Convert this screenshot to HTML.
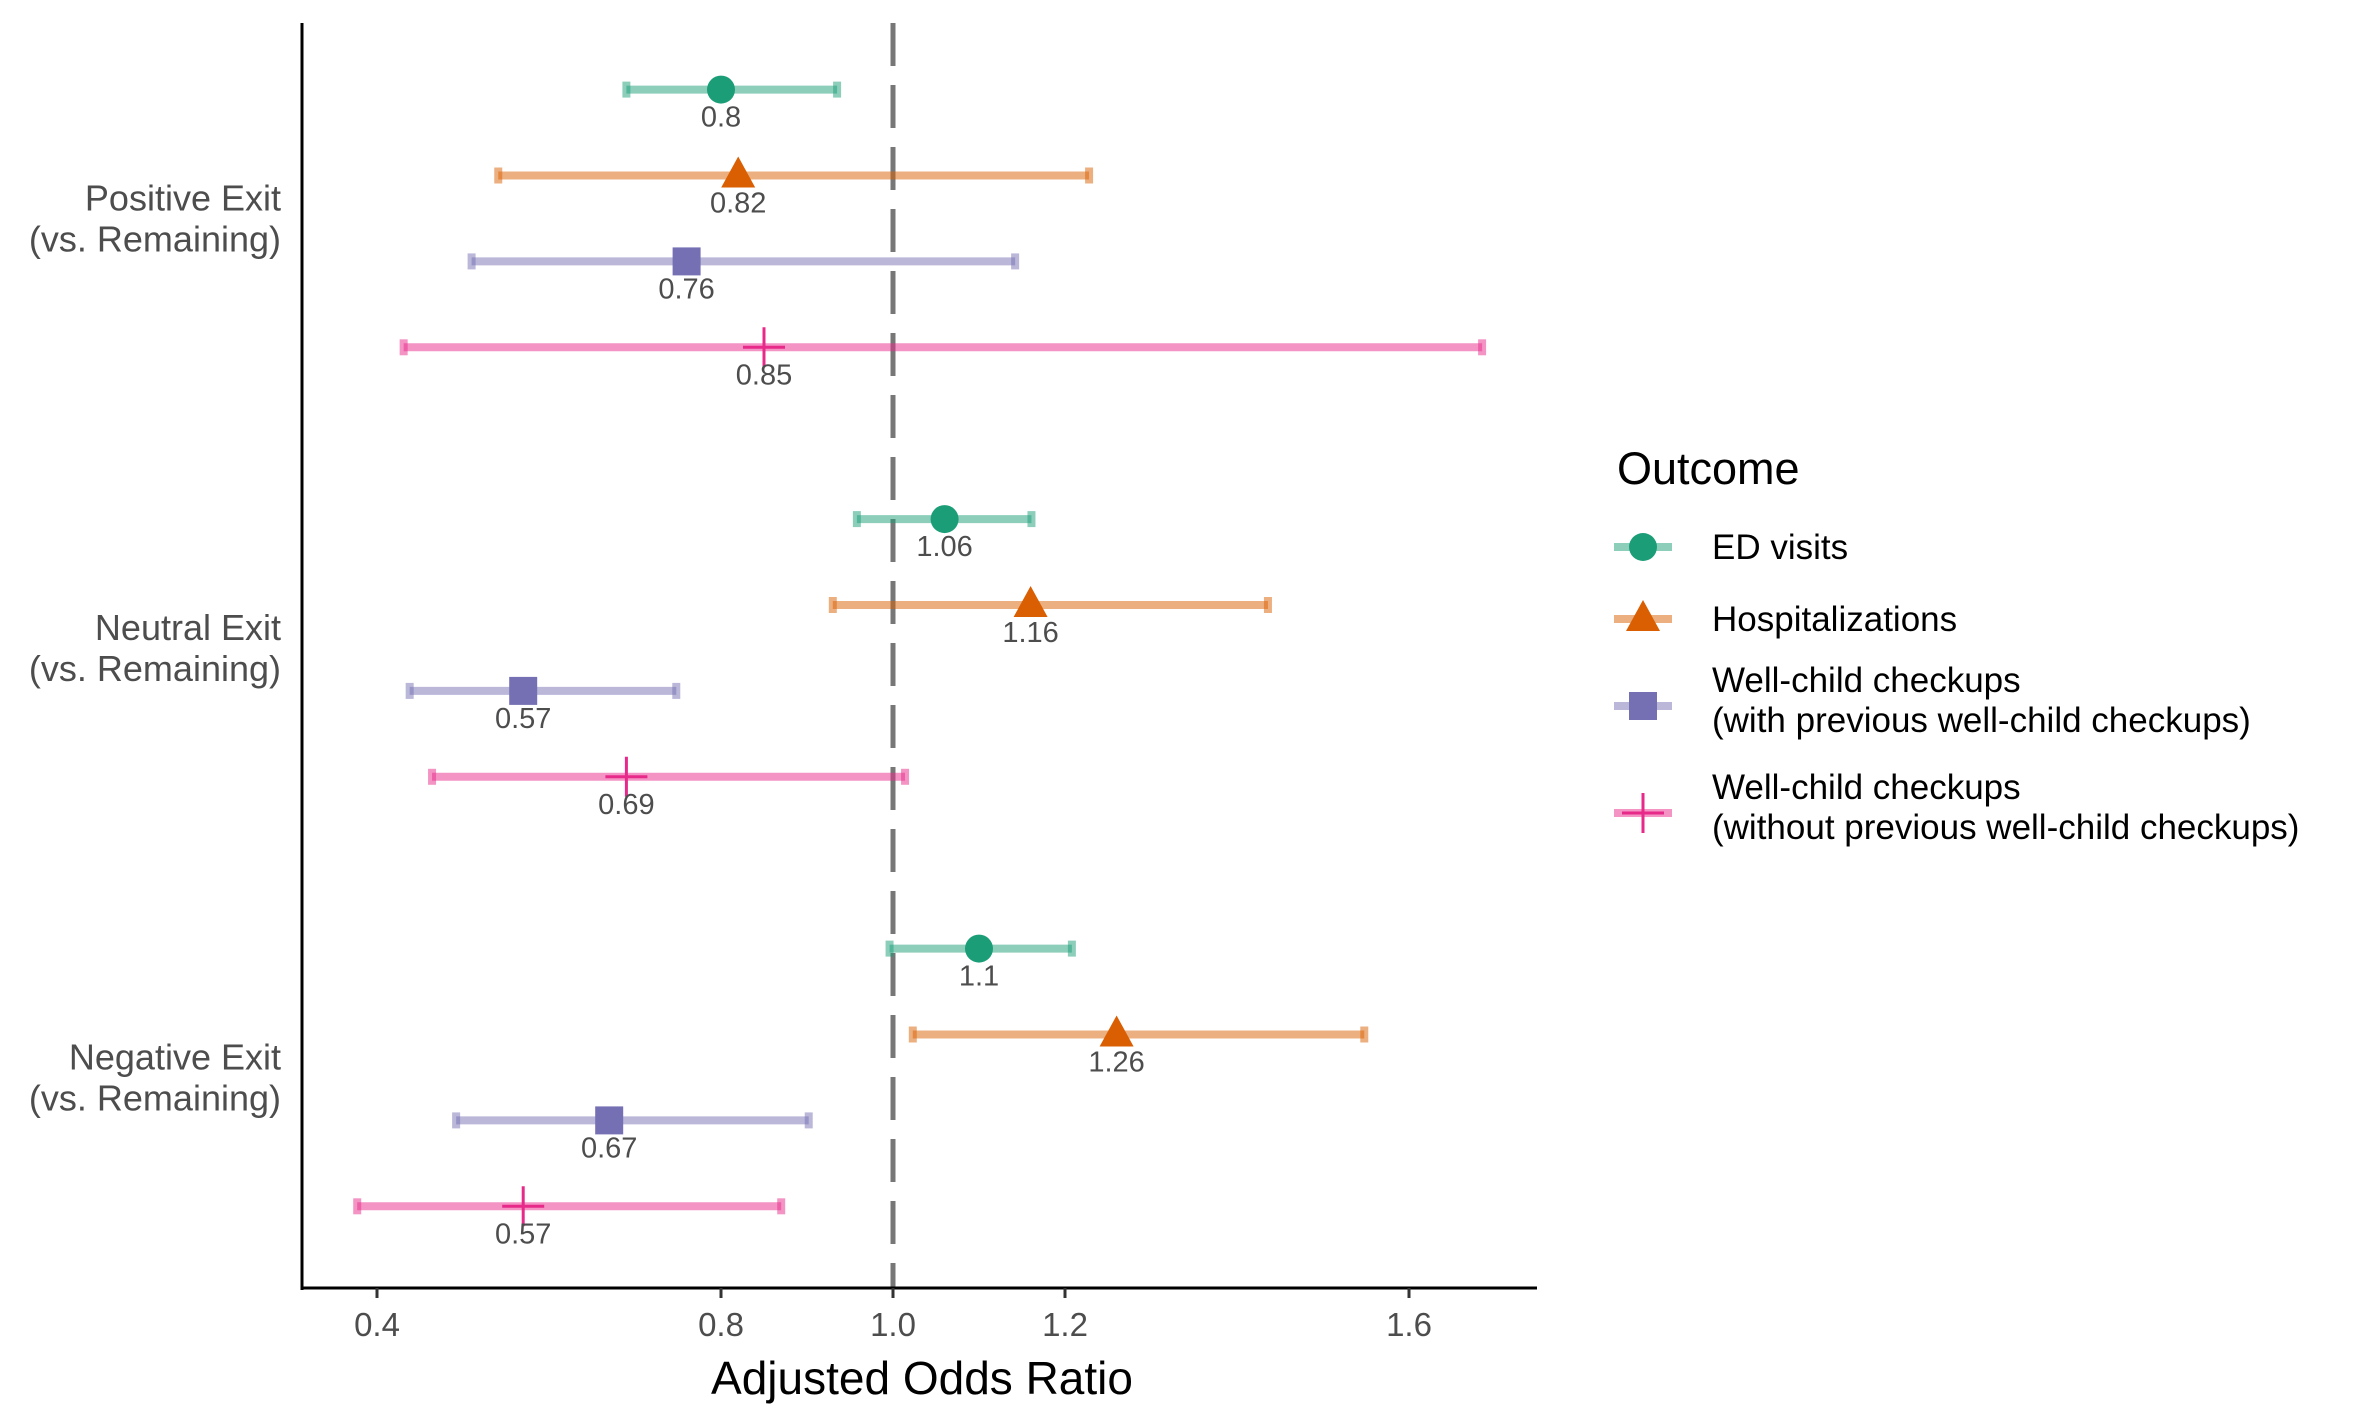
<!DOCTYPE html>
<html><head><meta charset="utf-8"><style>
html,body{margin:0;padding:0;background:#fff;}
svg{display:block;font-family:"Liberation Sans",Arial,sans-serif;}
</style></head><body>
<svg id="chart" width="2362" height="1417" viewBox="0 0 2362 1417">
<g id="plot"></g>
</svg>
<script>
const groups = ["Positive Exit", "Neutral Exit", "Negative Exit"];
const outcomes = ["ED visits", "Hospitalizations", "Well-child checkups (with)", "Well-child checkups (without)"];
const estPositive = [0.8, 0.82, 0.76, 0.85];
const lowPositive = [0.69, 0.541, 0.51, 0.431];
const highPositive = [0.935, 1.228, 1.142, 1.685];
const estNeutral = [1.06, 1.16, 0.57, 0.69];
const lowNeutral = [0.958, 0.93, 0.438, 0.464];
const highNeutral = [1.161, 1.436, 0.748, 1.014];
const estNegative = [1.1, 1.26, 0.67, 0.57];
const lowNegative = [0.996, 1.023, 0.492, 0.377];
const highNegative = [1.208, 1.548, 0.902, 0.87];
const xTicks = [0.4, 0.8, 1.0, 1.2, 1.6];
const xTickLabels = ["0.4", "0.8", "1.0", "1.2", "1.6"];

const colors = ["#1b9e77", "#d95f02", "#7570b3", "#e7298a"];
const NS = "http://www.w3.org/2000/svg";
const g = document.getElementById("plot");
function X(v){ return 893 + (v - 1) * 860; }
function Y(gi, oi){ return 89.6 + (gi * 5 + oi) * 85.9; }
function el(tag, attrs, parent){ const e = document.createElementNS(NS, tag); for (const k in attrs) e.setAttribute(k, attrs[k]); (parent||g).appendChild(e); return e; }
function marker(oi, cx, cy, parent){
  const c = colors[oi]; let m;
  if (oi === 0) m = el("circle", {cx:cx, cy:cy, r:14, fill:c}, parent);
  else if (oi === 1) m = el("polygon", {points:`${cx},${cy-19} ${cx-17},${cy+12} ${cx+17},${cy+12}`, fill:c}, parent);
  else if (oi === 2) m = el("rect", {x:cx-14, y:cy-14, width:28, height:28, fill:c}, parent);
  else { m = el("path", {d:`M${cx-21},${cy}H${cx+21}M${cx},${cy-20}V${cy+20}`, stroke:c, "stroke-width":3, fill:"none"}, parent); }
  return m;
}

const ref = el("line", {x1:X(1), x2:X(1), y1:23, y2:1288, stroke:"#555", "stroke-opacity":0.8, "stroke-width":5, "stroke-dasharray":"43 19"});



const ests = [estPositive, estNeutral, estNegative];
const lows = [lowPositive, lowNeutral, lowNegative];
const highs = [highPositive, highNeutral, highNegative];
for (let gi = 0; gi < 3; gi++) {
  for (let oi = 0; oi < 4; oi++) {
    const y = Y(gi, oi), c = colors[oi];
    const grp = el("g", {});
    
    
    el("line", {x1:X(lows[gi][oi]), x2:X(highs[gi][oi]), y1:y, y2:y, stroke:c, "stroke-opacity":0.5, "stroke-width":8}, grp);
    el("line", {x1:X(lows[gi][oi]), x2:X(lows[gi][oi]), y1:y-8, y2:y+8, stroke:c, "stroke-opacity":0.5, "stroke-width":8}, grp);
    el("line", {x1:X(highs[gi][oi]), x2:X(highs[gi][oi]), y1:y-8, y2:y+8, stroke:c, "stroke-opacity":0.5, "stroke-width":8}, grp);
    marker(oi, X(ests[gi][oi]), y, grp);
    const t = el("text", {x:X(ests[gi][oi]), y:y+37, "text-anchor":"middle", "font-size":29, fill:"#4d4d4d"}, grp);
    t.textContent = String(ests[gi][oi]);
  }
  const cy = (Y(gi,1) + Y(gi,2)) / 2;
  const lab = el("text", {x:281, y:cy-8, "text-anchor":"end", "font-size":36, fill:"#4d4d4d"});
  
  
  const t1 = el("tspan", {x:281}, lab); t1.textContent = groups[gi];
  const t2 = el("tspan", {x:281, dy:41}, lab); t2.textContent = "(vs. Remaining)";
}

const ya = el("line", {x1:302, x2:302, y1:23, y2:1290, stroke:"#000", "stroke-width":3});


const xa = el("line", {x1:301, x2:1537, y1:1288, y2:1288, stroke:"#000", "stroke-width":3});


xTicks.forEach((v, i) => {
  el("line", {x1:X(v), x2:X(v), y1:1288, y2:1298, stroke:"#333", "stroke-width":3});
  const t = el("text", {x:X(v), y:1336, "text-anchor":"middle", "font-size":33, fill:"#4d4d4d"});
  
  
  t.textContent = xTickLabels[i];
});
const xt = el("text", {x:922, y:1394, "text-anchor":"middle", "font-size":46, fill:"#000"});


xt.textContent = "Adjusted Odds Ratio";

const lg = el("g", {});


const lt = el("text", {x:1617, y:484, "font-size":45, fill:"#000"}, lg);
lt.textContent = "Outcome";
const keyY = [547, 619, 706, 813];
const legText = [["ED visits"], ["Hospitalizations"], ["Well-child checkups", "(with previous well-child checkups)"], ["Well-child checkups", "(without previous well-child checkups)"]];
for (let oi = 0; oi < 4; oi++) {
  const e = el("g", {}, lg);
  
  
  const y = keyY[oi];
  el("line", {x1:1614, x2:1672, y1:y, y2:y, stroke:colors[oi], "stroke-opacity":0.5, "stroke-width":8}, e);
  marker(oi, 1643, y, e);
  const lines = legText[oi];
  const t = el("text", {x:1712, y: lines.length === 1 ? y+12 : y-14, "font-size":35, fill:"#000"}, e);
  lines.forEach((s, k) => { const ts = el("tspan", {x:1712, dy: k ? 40 : 0}, t); ts.textContent = s; });
}
</script>
</body></html>
